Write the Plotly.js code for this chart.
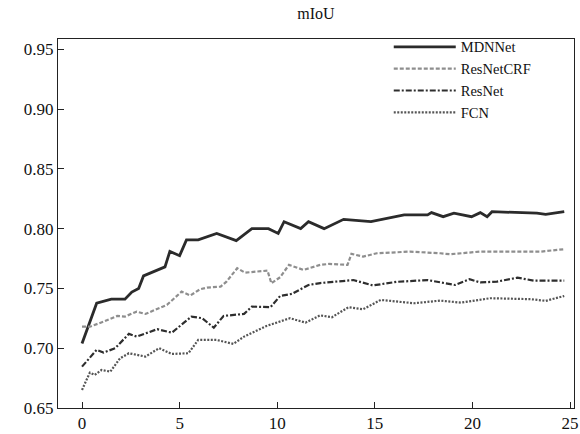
<!DOCTYPE html>
<html>
<head>
<meta charset="utf-8">
<script src="https://cdn.plot.ly/plotly-3.0.1.min.js"></script>
<style>
html,body{margin:0;padding:0;background:#fff;}
#chart{width:580px;height:434px;}
</style>
</head>
<body>
<div id="chart"></div>
<script>
// ---- data ----
const seriesNames = ["MDNNet", "ResNetCRF", "ResNet", "FCN"];

const mdnX = [0, 0.75, 1.5, 2.2, 2.55, 2.9, 3.15, 4.25, 4.5, 5.0, 5.35, 5.95, 6.9, 7.9, 8.7, 9.55, 10.05, 10.35, 11.2, 11.6, 12.4, 13.4, 14.8, 15.6, 16.5, 17.7, 17.9, 18.5, 19.05, 19.95, 20.4, 20.75, 21.0, 23.3, 23.75, 24.7];
const mdnY = [0.704, 0.7376, 0.741, 0.741, 0.747, 0.750, 0.7605, 0.768, 0.781, 0.7774, 0.7906, 0.7906, 0.796, 0.790, 0.800, 0.800, 0.796, 0.8058, 0.800, 0.8058, 0.800, 0.8078, 0.8058, 0.8087, 0.8115, 0.8115, 0.8134, 0.810, 0.8129, 0.810, 0.8134, 0.810, 0.8142, 0.8129, 0.812, 0.8142];

const crfX = [0, 0.4, 1.1, 1.8, 2.2, 2.8, 3.25, 4.35, 5.1, 5.55, 6.05, 6.4, 7.1, 7.4, 7.95, 8.35, 9.5, 9.7, 10.15, 10.6, 11.35, 12.2, 12.65, 13.6, 13.8, 14.4, 15.1, 16.8, 18.35, 18.85, 20.4, 23.5, 24.7];
const crfY = [0.718, 0.718, 0.7222, 0.727, 0.7265, 0.7306, 0.7287, 0.7362, 0.7473, 0.7441, 0.7493, 0.7507, 0.7515, 0.7557, 0.7669, 0.7632, 0.7649, 0.7543, 0.7594, 0.7697, 0.7655, 0.7697, 0.7705, 0.7697, 0.7789, 0.7766, 0.7794, 0.7808, 0.7794, 0.7786, 0.7808, 0.7808, 0.7828];

const resX = [0, 0.75, 1.1, 1.7, 2.4, 2.8, 3.85, 4.6, 5.6, 6.15, 6.75, 7.25, 8.3, 8.7, 9.65, 10.15, 10.75, 11.6, 12.2, 13.0, 13.9, 14.9, 16.1, 17.7, 19.1, 19.85, 20.4, 21.25, 22.3, 23.15, 24.7];
const resY = [0.6846, 0.6986, 0.6963, 0.700, 0.7120, 0.7097, 0.7159, 0.7130, 0.7264, 0.7251, 0.7172, 0.727, 0.7287, 0.7348, 0.7343, 0.7437, 0.7454, 0.7529, 0.7545, 0.7555, 0.757, 0.7525, 0.7555, 0.757, 0.7529, 0.7577, 0.755, 0.7557, 0.759, 0.7565, 0.7565];

const fcnX = [0, 0.4, 0.65, 1.0, 1.45, 1.95, 2.4, 3.25, 3.95, 4.6, 5.45, 5.95, 6.9, 7.75, 8.3, 9.45, 10.65, 11.45, 12.2, 12.8, 13.65, 14.4, 15.3, 17.0, 18.35, 19.4, 20.9, 23.0, 23.75, 24.7];
const fcnY = [0.6651, 0.6796, 0.6777, 0.6818, 0.6804, 0.6916, 0.6958, 0.693, 0.700, 0.6952, 0.6958, 0.7069, 0.7069, 0.7036, 0.7097, 0.7186, 0.7251, 0.7214, 0.7275, 0.7259, 0.7343, 0.7326, 0.7404, 0.7376, 0.7398, 0.7381, 0.7418, 0.741, 0.7396, 0.7437];

const xTicks = [0, 5, 10, 15, 20, 25];
const yTicks = [0.65, 0.70, 0.75, 0.80, 0.85, 0.90, 0.95];

// ---- chart ----
const FONT = "Liberation Serif, Times New Roman, serif";
const traces = [
  {x: mdnX, y: mdnY, name: seriesNames[0], mode: "lines",
   line: {color: "#2b2b2b", width: 2.8, dash: "solid"}},
  {x: crfX, y: crfY, name: seriesNames[1], mode: "lines",
   line: {color: "#8e8e8e", width: 2.2, dash: "4px,2px"}},
  {x: resX, y: resY, name: seriesNames[2], mode: "lines",
   line: {color: "#2e2e2e", width: 2.2, dash: "6px,2px,2px,2px"}},
  {x: fcnX, y: fcnY, name: seriesNames[3], mode: "lines",
   line: {color: "#555555", width: 2.2, dash: "2px,1.5px"}}
];

const layout = {
  width: 580, height: 434,
  margin: {l: 58, r: 6, t: 39, b: 26, pad: 0},
  paper_bgcolor: "#ffffff",
  plot_bgcolor: "#ffffff",
  font: {family: FONT, size: 17, color: "#111"},
  title: {text: "mIoU", font: {family: FONT, size: 16, color: "#111"},
          xref: "paper", x: 0.5, xanchor: "center", y: 0.968, yanchor: "middle"},
  xaxis: {
    range: [-1.23, 25.2], tickvals: xTicks, ticks: "inside", ticklen: 6,
    tickcolor: "#222", showgrid: false, zeroline: false,
    showline: true, linecolor: "#222", linewidth: 1, mirror: true,
    tickfont: {family: FONT, size: 17, color: "#111"}
  },
  yaxis: {
    range: [0.65, 0.9586], tickvals: yTicks, tickformat: ".2f", ticks: "inside", ticklen: 6,
    tickcolor: "#222", showgrid: false, zeroline: false,
    showline: true, linecolor: "#222", linewidth: 1, mirror: true,
    tickfont: {family: FONT, size: 17, color: "#111"}
  },
  showlegend: true,
  legend: {
    x: 0.641, y: 1.022, xanchor: "left", yanchor: "top",
    bgcolor: "rgba(255,255,255,0)", borderwidth: 0,
    font: {family: FONT, size: 14.5, color: "#111"},
    itemwidth: 62, tracegroupgap: 0
  }
};

Plotly.newPlot("chart", traces, layout, {displayModeBar: false, staticPlot: true});
</script>
</body>
</html>
